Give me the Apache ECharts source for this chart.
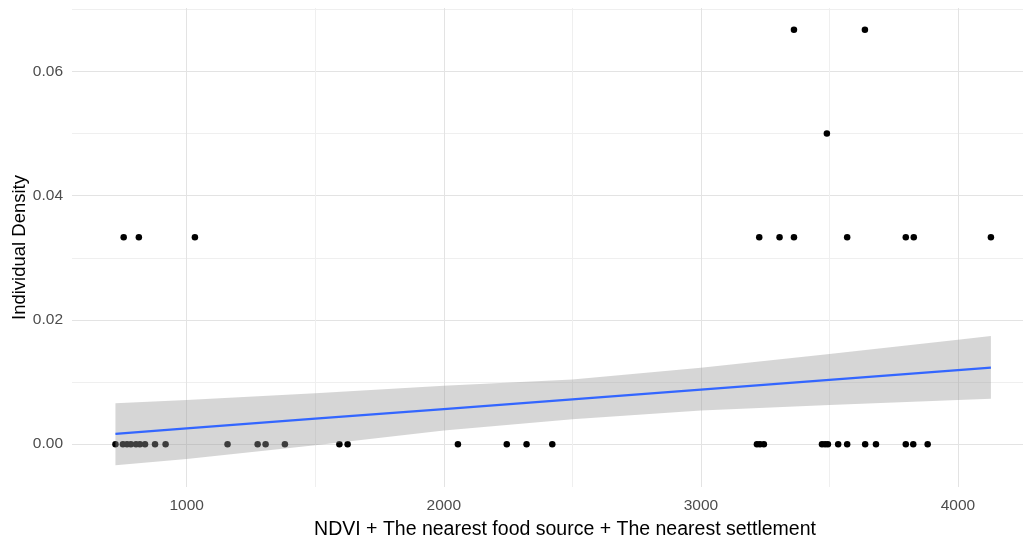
<!DOCTYPE html>
<html>
<head>
<meta charset="utf-8">
<script src="https://cdn.jsdelivr.net/npm/echarts@6/dist/echarts.min.js"></script>
<style>html,body{margin:0;padding:0;background:#fff}#c{width:1023px;height:537px}</style>
</head>
<body>
<div id="c"></div>
<script>
// Observed points
const pointsX = [723, 752, 768, 783, 803, 818, 838, 877, 918, 1159, 1276, 1307, 1382, 1594, 1626, 2055, 2245, 2322, 2422,
  3218, 3230, 3245, 3471, 3483, 3494, 3534, 3569, 3639, 3681, 3797, 3826, 3882,
  755, 814, 1032, 3227, 3306, 3362, 3569, 3797, 3828, 4128,
  3490, 3362, 3638];
const pointsY = [0, 0, 0, 0, 0, 0, 0, 0, 0, 0, 0, 0, 0, 0, 0, 0, 0, 0, 0,
  0, 0, 0, 0, 0, 0, 0, 0, 0, 0, 0, 0, 0,
  0.0333, 0.0333, 0.0333, 0.0333, 0.0333, 0.0333, 0.0333, 0.0333, 0.0333, 0.0333,
  0.05, 0.0667, 0.0667];
// Linear fit and confidence band
const fitX = [723, 1000, 1500, 2000, 2500, 3000, 3500, 4000, 4128];
const fitY = [0.00166, 0.00253, 0.0041, 0.00565, 0.0072, 0.00877, 0.01033, 0.0119, 0.0123];
const bandLow = [-0.0034, -0.0024, -0.0002, 0.0022, 0.0040, 0.0054, 0.0063, 0.0071, 0.0073];
const bandHigh = [0.0066, 0.0071, 0.0082, 0.0094, 0.0104, 0.0123, 0.0145, 0.0168, 0.0174];
const xTitle = 'NDVI + The nearest food source + The nearest settlement';
const yTitle = 'Individual Density';

const chart = echarts.init(document.getElementById('c'), null, {renderer: 'canvas'});
const font = 'Liberation Sans, Arial, sans-serif';
const majorLine = {show: true, showMinLine: false, showMaxLine: false, lineStyle: {color: '#e3e3e3', width: 1}};
const minorLine = {show: true, lineStyle: {color: '#efefef', width: 1}};

chart.setOption({
  animation: false,
  backgroundColor: '#ffffff',
  grid: {left: 72, top: 8, width: 986, height: 479, containLabel: false, outerBoundsMode: 'none'},
  xAxis: {
    type: 'value', min: 554, max: 4389, splitNumber: 4,
    name: xTitle, nameLocation: 'middle', nameGap: 33, nameMoveOverlap: false,
    nameTextStyle: {fontFamily: font, fontSize: 19.5, color: '#000000'},
    axisLine: {show: false}, axisTick: {show: false},
    axisLabel: {fontFamily: font, fontSize: 15.5, color: '#4d4d4d', margin: 11, showMinLabel: false, showMaxLabel: false,
      formatter: v => String(v)},
    splitLine: majorLine,
    minorTick: {show: false, splitNumber: 2},
    minorSplitLine: minorLine
  },
  yAxis: {
    type: 'value', min: -0.0069, max: 0.0702, splitNumber: 4,
    name: yTitle, nameLocation: 'middle', nameGap: 43, nameRotate: 90, nameMoveOverlap: false,
    nameTextStyle: {fontFamily: font, fontSize: 18.5, color: '#000000'},
    axisLine: {show: false}, axisTick: {show: false},
    axisLabel: {fontFamily: font, fontSize: 15.5, color: '#4d4d4d', margin: 9, showMinLabel: false, showMaxLabel: false,
      formatter: v => v.toFixed(2)},
    splitLine: majorLine,
    minorTick: {show: false, splitNumber: 2},
    minorSplitLine: minorLine
  },
  series: [
    {
      type: 'scatter', z: 2, symbol: 'circle', symbolSize: 6.5,
      itemStyle: {color: '#000000', opacity: 1},
      data: pointsX.map((x, i) => [x, pointsY[i]])
    },
    {
      type: 'custom', z: 3, silent: true,
      data: [0],
      renderItem: function (params, api) {
        const pts = [];
        for (let i = 0; i < fitX.length; i++) pts.push(api.coord([fitX[i], bandHigh[i]]));
        for (let i = fitX.length - 1; i >= 0; i--) pts.push(api.coord([fitX[i], bandLow[i]]));
        return {type: 'polygon', shape: {points: pts}, style: {fill: 'rgba(153,153,153,0.4)'}};
      }
    },
    {
      type: 'line', z: 4, symbol: 'none', silent: true,
      lineStyle: {color: '#3366FF', width: 2.2},
      data: fitX.map((x, i) => [x, fitY[i]])
    }
  ]
});
</script>
</body>
</html>
